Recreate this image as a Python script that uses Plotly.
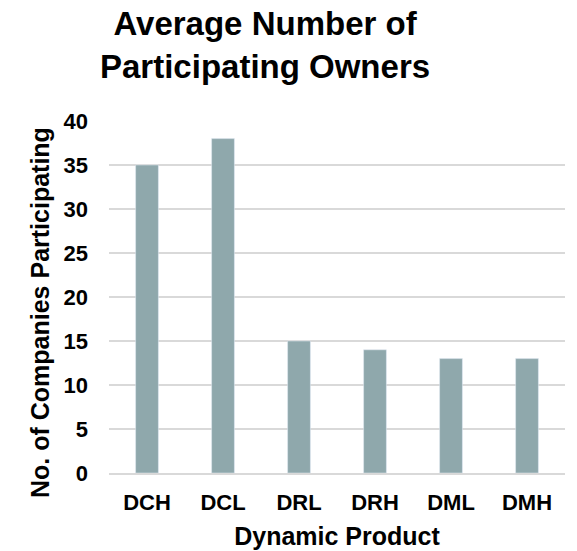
import plotly.graph_objects as go

categories = ["DCH", "DCL", "DRL", "DRH", "DML", "DMH"]
values = [35, 38, 15, 14, 13, 13]
y_ticks = [0, 5, 10, 15, 20, 25, 30, 35, 40]
title_text = "Average Number of<br>Participating Owners"
y_title = "No. of Companies Participating"
x_title = "Dynamic Product"

FONT = "Liberation Sans, Arial, sans-serif"
ML, MT, PW = 101, 113, 456

fig = go.Figure()
fig.add_trace(go.Bar(x=categories, y=values, marker_color="#8FA8AC", width=0.3))

fig.update_layout(
    width=577, height=551,
    margin=dict(l=ML, r=20, t=MT, b=86, autoexpand=False),
    paper_bgcolor="white", plot_bgcolor="white",
    showlegend=False,
    font=dict(family=FONT, color="black"),
    annotations=[
        dict(text=title_text, xref="paper", yref="paper",
             x=(257 - ML) / PW, y=1, yshift=MT + 5,
             xanchor="center", yanchor="top", showarrow=False,
             font=dict(size=33, family=FONT, color="black", weight="bold")),
        dict(text=y_title, xref="paper", yref="paper", textangle=-90,
             x=0, xshift=32 - ML, y=0.5, yshift=-16,
             xanchor="center", yanchor="middle", showarrow=False,
             font=dict(size=25, family=FONT, color="black", weight="bold")),
    ],
    xaxis=dict(title=dict(text=x_title, font=dict(size=25, weight="bold"), standoff=13),
               tickfont=dict(size=22, weight="bold"), showline=True, linecolor="#d9d9d9", linewidth=2,
               showgrid=False, ticks="", ticklabelstandoff=9, automargin=False),
    yaxis=dict(range=[0, 40], tickvals=y_ticks, tickfont=dict(size=22, weight="bold"),
               showgrid=True, gridcolor="#d9d9d9", gridwidth=1.5, zeroline=False,
               ticks="", ticklabelstandoff=20, automargin=False),
)

fig.write_html("out.html")
